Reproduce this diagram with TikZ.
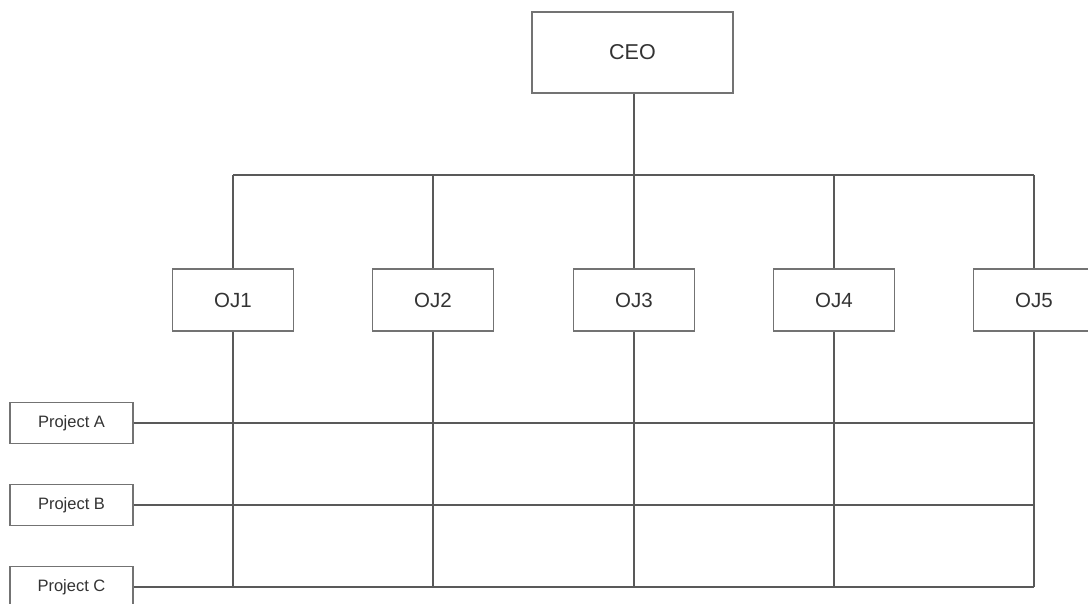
\documentclass[tikz,border=0pt]{standalone}
\usepackage{fontspec}
\setmainfont{Liberation Sans}
\begin{document}
\begin{tikzpicture}[x=1pt,y=-1pt,
  box/.style={draw=black!55,line width=1.2pt,fill=white,inner sep=0pt,text=black!80},
  bigbox/.style={box,minimum width=201pt,minimum height=81pt,font=\fontsize{21.5}{25}\selectfont},
  ojbox/.style={box,minimum width=121pt,minimum height=62pt,font=\fontsize{20.5}{24}\selectfont},
  projbox/.style={box,minimum width=123pt,minimum height=41pt,font=\fontsize{16.5}{19}\selectfont},
  wire/.style={draw=black!65,line width=1.2pt}]
\clip (0,0) rectangle (1088,603);
\fill[white] (0,0) rectangle (1088,603);
% named coordinates for the bus and the lower ends
\coordinate (busL) at (233,175);
\coordinate (busR) at (1034,175);
\coordinate (bot) at (0,587);
% nodes
\node[bigbox] (ceo) at (632.5,52.5) {CEO};
\node[ojbox] (oj1) at (233,300) {OJ1};
\node[ojbox] (oj2) at (433,300) {OJ2};
\node[ojbox] (oj3) at (634,300) {OJ3};
\node[ojbox] (oj4) at (834,300) {OJ4};
\node[ojbox] (oj5) at (1034,300) {OJ5};
\node[projbox] (pa) at (71.5,423) {Project A};
\node[projbox] (pb) at (71.5,505) {Project B};
\node[projbox] (pc) at (71.5,587) {Project C};
% connectors
\draw[wire] (ceo.south -| oj3) -- (oj3 |- busL);
\draw[wire] (busL) -- (busR);
\foreach \n in {oj1,oj2,oj3,oj4,oj5} {
  \draw[wire] (\n |- busL) -- (\n.north);
  \draw[wire] (\n.south) -- (\n |- bot);
}
\draw[wire] (pa.east) -- (pa -| busR);
\draw[wire] (pb.east) -- (pb -| busR);
\draw[wire] (pc.east) -- (pc -| busR);
\end{tikzpicture}
\end{document}
